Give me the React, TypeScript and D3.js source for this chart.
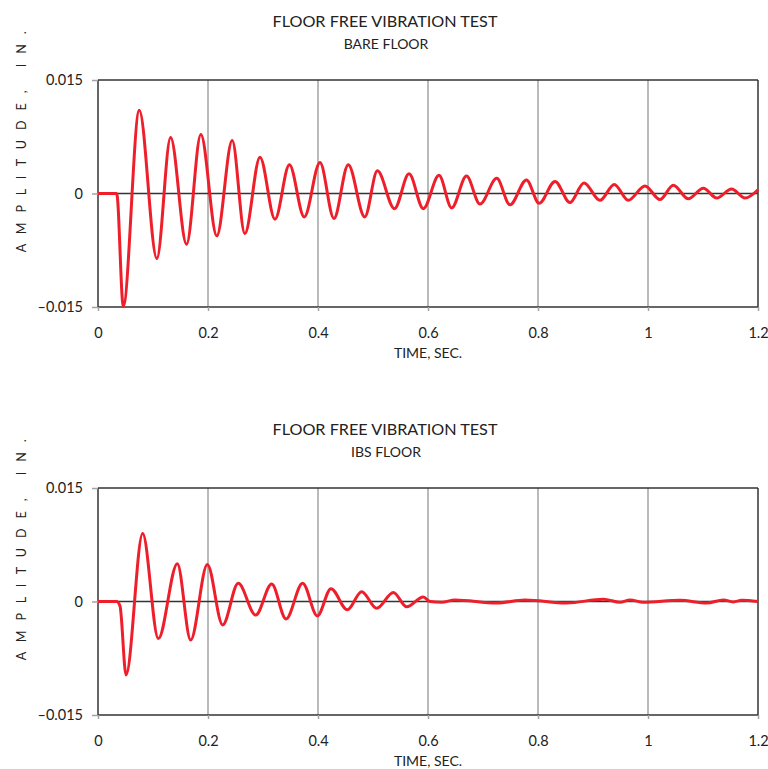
import React, { useEffect, useRef } from 'react';
import * as d3 from 'd3';

const width = 768;
const height = 769;
const red = '#ee1f2a';
const dark = '#333';
const gridGray = '#a3a3a3';
const font = 'Lato, "Open Sans", sans-serif';

// chart text
const mainTitle = 'FLOOR FREE VIBRATION TEST';
const subTitles = ['BARE FLOOR', 'IBS FLOOR'];
const xTitle = 'TIME, SEC.';
const yTitle = 'A M P L I T U D E ,   I N .';

// ticks
const xTicks = [0, 0.2, 0.4, 0.6, 0.8, 1.0, 1.2];
const xTickLabels = ['0', '0.2', '0.4', '0.6', '0.8', '1', '1.2'];
const yTicks = [-0.015, 0, 0.015];
const yTickLabels = ['\u20130.015', '0', '0.015'];

// bare floor trace (peaks / troughs)
const bareTime = [0, 0.034, 0.046, 0.075, 0.107, 0.132, 0.161, 0.187, 0.216, 0.244, 0.267, 0.2945,
  0.3218, 0.348, 0.375, 0.4036, 0.429, 0.455, 0.485, 0.508, 0.539, 0.5655, 0.5915, 0.62, 0.643,
  0.67, 0.6945, 0.725, 0.749, 0.779, 0.802, 0.831, 0.858, 0.8836, 0.9127, 0.9387, 0.964, 0.9945,
  1.0218, 1.046, 1.0733, 1.1005, 1.125, 1.152, 1.1764, 1.2];
const bareAmp = [0, 0, -0.0149, 0.011, -0.0086, 0.0074, -0.0067, 0.0078, -0.0056, 0.007, -0.0053, 0.0048,
  -0.0034, 0.0038, -0.0031, 0.0041, -0.0033, 0.0038, -0.0031, 0.003, -0.002, 0.0026, -0.002, 0.0024, -0.0019,
  0.0023, -0.0014, 0.002, -0.0015, 0.0018, -0.0013, 0.0016, -0.0012, 0.0014, -0.0009, 0.0012, -0.0009, 0.001,
  -0.0008, 0.0011, -0.0007, 0.0007, -0.0006, 0.0006, -0.0006, 0.0005];

// IBS floor trace
const ibsTime = [0, 0.034, 0.04, 0.051, 0.0812, 0.1097, 0.1442, 0.1685, 0.1988, 0.2267, 0.255, 0.2867,
  0.3158, 0.3418, 0.3721, 0.3988, 0.4236, 0.4533, 0.4794, 0.5067, 0.537, 0.5612, 0.5915, 0.6036, 0.6248,
  0.649, 0.7249, 0.7764, 0.852, 0.9187, 0.949, 0.9673, 0.9915, 1.058, 1.1067, 1.137, 1.155, 1.1704, 1.2];
const ibsAmp = [0, 0, -0.0006, -0.0097, 0.009, -0.0049, 0.005, -0.0051, 0.0049, -0.0031, 0.0024, -0.0018,
  0.0023, -0.0023, 0.0024, -0.0019, 0.0017, -0.0011, 0.0013, -0.0009, 0.0012, -0.0007, 0.0006, 0, -0.0001,
  0.0002, -0.0002, 0.0002, -0.0002, 0.0003, -0.0001, 0.0002, -0.0001, 0.00015, -0.0002, 0.0002, -0.00005, 0.00015, 0];

const left = 98;
const right = 758;

function Panel({ top, sub, times, amps }) {
  const xAxisRef = useRef(null);
  const yAxisRef = useRef(null);
  const plotTop = top + 80;
  const plotBottom = top + 307;

  const xScale = d3.scaleLinear().domain([0, 1.2]).range([left, right]);
  const yScale = d3.scaleLinear().domain([-0.015, 0.015]).range([plotBottom, plotTop]);

  const pts = times.map((t, i) => [t, amps[i]]);
  const line = d3.line()
    .x(d => xScale(d[0]))
    .y(d => yScale(d[1]))
    .curve(d3.curveMonotoneX);

  useEffect(() => {
    const xAxis = d3.axisBottom(xScale).tickValues(xTicks)
      .tickFormat((d, i) => xTickLabels[i]).tickSize(4).tickPadding(17);
    const yAxis = d3.axisLeft(yScale).tickValues(yTicks)
      .tickFormat((d, i) => yTickLabels[i]).tickSize(6).tickPadding(9);
    const gx = d3.select(xAxisRef.current).call(xAxis);
    const gy = d3.select(yAxisRef.current).call(yAxis);
    [gx, gy].forEach(g => {
      g.select('.domain').remove();
      g.selectAll('line').attr('stroke', gridGray).attr('stroke-width', 1.5);
      g.selectAll('text').attr('fill', '#222').style('font-family', font).style('font-size', '14.5px');
    });
  });

  return (
    <g>
      <text x={385} y={top + 27} textAnchor="middle" fontFamily={font} fontSize={16.2} fill="#222">{mainTitle}</text>
      <text x={386} y={top + 49} textAnchor="middle" fontFamily={font} fontSize={14} fill="#222">{sub}</text>
      {xTicks.slice(1, -1).map(t => (
        <line key={t} x1={xScale(t)} x2={xScale(t)} y1={plotTop} y2={plotBottom} stroke={gridGray} strokeWidth={1.5} />
      ))}
      <line x1={left} x2={right} y1={plotTop} y2={plotTop} stroke={dark} strokeWidth={1.5} />
      <line x1={left} x2={right} y1={plotBottom} y2={plotBottom} stroke={dark} strokeWidth={1.5} />
      <line x1={left} x2={left} y1={plotTop} y2={plotBottom} stroke={dark} strokeWidth={1.5} />
      <line x1={right} x2={right} y1={plotTop} y2={plotBottom} stroke={dark} strokeWidth={1.5} />
      <line x1={left} x2={right} y1={yScale(0)} y2={yScale(0)} stroke={dark} strokeWidth={1.5} />
      <path d={line(pts)} fill="none" stroke={red} strokeWidth={3} strokeLinejoin="round" />
      <g ref={xAxisRef} transform={`translate(0, ${plotBottom})`} />
      <g ref={yAxisRef} transform={`translate(${left}, 0)`} />
      <text x={xScale(0.6)} y={top + 358} textAnchor="middle" fontFamily={font} fontSize={14} fill="#222">{xTitle}</text>
      <text transform={`translate(26, ${top + 140}) rotate(-90)`} textAnchor="middle" fontFamily={font}
        fontSize={12.5} fill="#222" letterSpacing={3.4} style={{ whiteSpace: 'pre' }}>{yTitle}</text>
    </g>
  );
}

export default function App() {
  return (
    <div style={{ position: 'absolute', left: 0, top: 0 }}>
      <svg width={width} height={height} style={{ display: 'block', background: '#fff' }}>
        <Panel top={0} sub={subTitles[0]} times={bareTime} amps={bareAmp} />
        <Panel top={408} sub={subTitles[1]} times={ibsTime} amps={ibsAmp} />
      </svg>
    </div>
  );
}
